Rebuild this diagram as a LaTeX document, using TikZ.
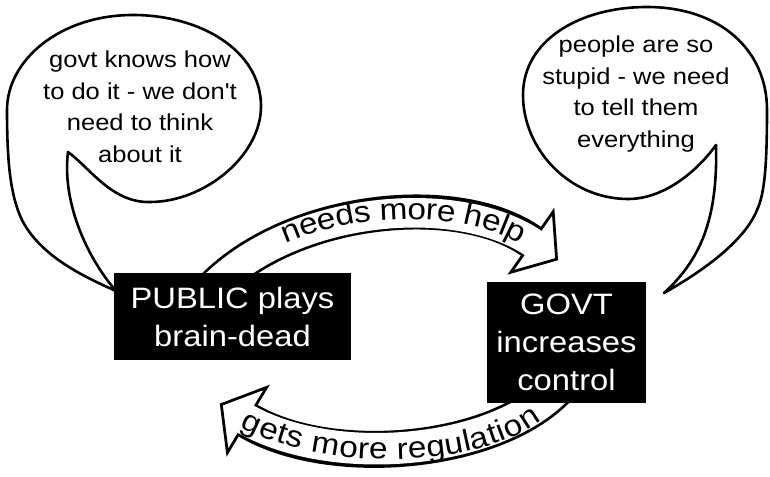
\documentclass[tikz,border=0pt]{standalone}
\usepackage{fontspec}
\setmainfont{Liberation Sans}
\newfontfamily\ffont[FakeStretch=1.11]{Liberation Sans}
\usetikzlibrary{decorations.text,calc}
\begin{document}
\begin{tikzpicture}[x=1pt,y=-1pt,
  bubble/.style={draw=black, line width=2.6pt, fill=white, line join=round},
  bubbletext/.style={align=center, font=\ffont\fontsize{23}{31.5}\selectfont, inner sep=0pt},
  blackbox/.style={fill=black, text=white, align=center, inner sep=0pt, font=\ffont\fontsize{29.5}{38}\selectfont},
  bandoutU/.style={line width=35pt, black},
  bandinU/.style={line width=29.5pt, white},
  bandoutL/.style={line width=37pt, black},
  bandinL/.style={line width=31.5pt, white},
  arrowhead/.style={fill=white, draw=black, line width=2.75pt, line join=miter}]
\fill[white] (0,0) rectangle (770,476);
\path[use as bounding box] (0,0) rectangle (770,476);

% left speech bubble
\draw[bubble] (68,152) .. controls (90,168) and (112,203) .. (150,202)
  .. controls (205,202) and (262,155) .. (261,105)
  .. controls (260,50) and (200,15) .. (133,15)
  .. controls (60,15) and (7,60) .. (7,110)
  .. controls (7,160) and (10,195) .. (22,220)
  .. controls (40,255) and (80,275) .. (116,291)
  .. controls (85,255) and (62,200) .. (68,152) -- cycle;
\node[bubbletext] (lt) at (140,107) {govt knows how\\to do it - we don't\\need to think\\about it};

% right speech bubble
\draw[bubble] (716,145) .. controls (698,170) and (665,199) .. (628,199)
  .. controls (570,199) and (523,150) .. (523,95)
  .. controls (523,40) and (580,7) .. (647,7)
  .. controls (720,7) and (767,50) .. (767,110)
  .. controls (767,170) and (764,195) .. (757,210)
  .. controls (745,240) and (705,270) .. (664,293)
  .. controls (700,260) and (718,220) .. (716,145) -- cycle;
\node[bubbletext] (rt) at (636,94) {people are so\\stupid - we need\\to tell them\\everything};

% upper arrow
\coordinate (u0) at (226,273);
\coordinate (u3) at (532,242);
\draw[bandoutU, shorten <=-25pt] (u0) .. controls (290,205) and (460,190) .. (u3);
\filldraw[arrowhead] (553.2,211.7) -- (556.6,259.2) -- (510.8,272.3) -- cycle;
\draw[bandinU, shorten <=-25pt, shorten >=-6pt] (u0) .. controls (290,205) and (460,190) .. (u3);
\path[decorate, decoration={text along path,
   text={|\ffont\fontsize{30}{30}\selectfont|needs more help},
   text align={right, right indent=10pt}, raise=-8.5pt}]
   (u0) .. controls (290,205) and (460,190) .. (u3);

% lower arrow
\coordinate (l0) at (247,420);
\coordinate (l3) at (545,403);
\draw[bandoutL, shorten >=-25pt] (l0) .. controls (330,470) and (500,455) .. (l3);
\filldraw[arrowhead] (266.6,387.4) -- (221.3,404.5) -- (227.4,452.6) -- cycle;
\draw[bandinL, shorten >=-25pt, shorten <=-6pt] (l0) .. controls (330,470) and (500,455) .. (l3);
\path[decorate, decoration={text along path,
   text={|\ffont\fontsize{30}{30}\selectfont|gets more regulation},
   text align={center}, raise=-10pt}]
   ($(l0)+(-14,-8)$) .. controls (330,470) and (500,455) .. (l3);

% boxes
\node[blackbox, minimum width=237pt, minimum height=87pt] (public) at (232.5,316.5) {PUBLIC plays\\brain-dead};
\node[blackbox, minimum width=159pt, minimum height=121pt] (govt) at (566.5,342.5) {GOVT\\increases\\control};
\end{tikzpicture}
\end{document}
